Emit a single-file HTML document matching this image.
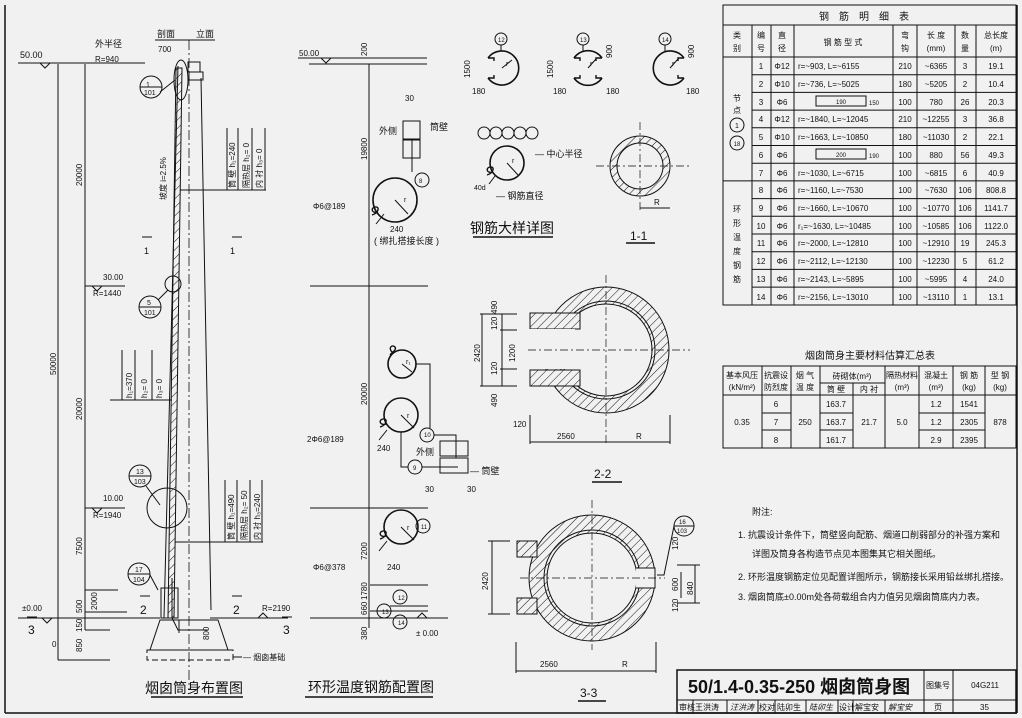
<!DOCTYPE html>
<html><head><meta charset="utf-8"><style>
html,body{margin:0;padding:0;background:#f1f1f1}
svg{display:block}
text{font-family:"Liberation Sans","Noto Sans CJK SC",sans-serif;fill:#111}
.t{font-size:9px}
.s{font-size:8px}
</style></head><body>
<svg width="1022" height="718" viewBox="0 0 1022 718" xmlns="http://www.w3.org/2000/svg">
<defs>
<pattern id="h" width="6" height="6" patternUnits="userSpaceOnUse" patternTransform="rotate(45)">
<rect width="6" height="6" fill="#f1f1f1"/><line x1="0" y1="0" x2="0" y2="6" stroke="#111" stroke-width="1"/></pattern>
</defs>
<rect width="1022" height="718" fill="#f1f1f1"/>
<g stroke="#111" fill="none" stroke-width="1">
<line x1="5" y1="5" x2="5" y2="713" stroke-width="1.5"/>
<line x1="5" y1="713" x2="1017" y2="713" stroke-width="1.5"/>
<line x1="1017" y1="5" x2="1017" y2="713" stroke-width="1.5"/>

<line x1="58" y1="64" x2="58" y2="660"/>
<line x1="85" y1="64" x2="85" y2="630"/>
<line x1="18" y1="63" x2="145" y2="63"/>
<polyline points="40,63 45,68 50,63"/>
<line x1="85" y1="286" x2="125" y2="286"/>
<polyline points="92,286 97,291 102,286"/>
<line x1="85" y1="508" x2="125" y2="508"/>
<polyline points="92,508 97,513 102,508"/>
<line x1="85" y1="590" x2="118" y2="590"/>
<line x1="85" y1="612" x2="127" y2="612"/>
<line x1="18" y1="618" x2="128" y2="618"/>
<polyline points="42,618 47,623 52,618"/>
<line x1="85" y1="630" x2="110" y2="630"/>
<line x1="58" y1="660" x2="110" y2="660"/>
<line x1="128" y1="618" x2="160" y2="618"/>
<line x1="210" y1="618" x2="288" y2="618"/>
<polyline points="258,618 263,613 268,618"/>
<polygon points="176,68 182,68 174,618 168,618" fill="url(#h)"/>
<line x1="178" y1="66" x2="164" y2="618"/>
<line x1="201" y1="78" x2="211" y2="610"/>
<line x1="189" y1="40" x2="189" y2="690" stroke-dasharray="10,3,2,3" stroke-width="0.8"/>
<rect x="188" y="62" width="12" height="10"/>
<rect x="189" y="72" width="14" height="8"/>
<ellipse cx="181" cy="80" rx="7" ry="20"/>
<circle cx="173" cy="284" r="8"/>
<circle cx="167" cy="508" r="20"/>
<rect x="161" y="588" width="17" height="30"/>
<polyline points="172,578 172,618 178,630 208,630"/>
<line x1="179" y1="620" x2="179" y2="633"/>
<polygon points="160,620 218,620 228,650 150,650"/>
<rect x="147" y="650" width="86" height="10" stroke-dasharray="6,3"/>
<line x1="233" y1="657" x2="242" y2="657"/>
<path d="M227,128 V190 M238,128 V190 M252,128 V190 M265,128 V190 M180,190 H266"/>
<path d="M122,350 V400 M135,350 V400 M152,350 V400 M110,400 H172"/>
<path d="M225,480 V542 M237,480 V542 M250,480 V542 M262,480 V542 M175,542 H263"/>
<path d="M142,237 H152 M232,237 H242 M140,596 H150 M232,596 H242 M27,617 H37 M282,617 H292"/>
<circle cx="151" cy="87" r="11"/><line x1="140" y1="87" x2="162" y2="87"/>
<circle cx="150" cy="307" r="11"/><line x1="139" y1="307" x2="161" y2="307"/>
<circle cx="140" cy="476" r="11"/><line x1="129" y1="476" x2="151" y2="476"/>
<circle cx="139" cy="574" r="11"/><line x1="128" y1="574" x2="150" y2="574"/>
<line x1="160" y1="92" x2="175" y2="80"/><line x1="158" y1="300" x2="168" y2="290"/>
<line x1="146" y1="486" x2="160" y2="505"/><line x1="150" y1="575" x2="158" y2="590"/>
<line x1="151" y1="697" x2="243" y2="697" stroke-width="1.5"/>

<line x1="369" y1="64" x2="369" y2="628"/>
<line x1="298" y1="58" x2="427" y2="58"/>
<line x1="309" y1="64" x2="427" y2="64"/>
<polyline points="321,58 326,63 331,58"/>
<line x1="310" y1="286" x2="428" y2="286"/>
<line x1="310" y1="508" x2="428" y2="508"/>
<line x1="370" y1="585" x2="428" y2="585"/>
<line x1="390" y1="606" x2="428" y2="606"/>
<line x1="370" y1="611" x2="428" y2="611"/>
<line x1="310" y1="618" x2="448" y2="618"/>
<polyline points="417,618 422,613 427,618"/>
<g stroke-width="1.6">
<circle cx="395" cy="200" r="22"/>
<circle cx="402" cy="364" r="14"/>
<circle cx="401" cy="415" r="17"/>
<circle cx="401" cy="527" r="17"/>
<circle cx="507" cy="163" r="17"/>
</g>
<path d="M378,212 c-6,2 -8,-4 -3,-5 c5,-1 4,6 -3,8" stroke-width="1.4"/>
<path d="M392,352 c-4,-4 0,-8 3,-5 c2,3 -3,5 -5,8" stroke-width="1.4"/>
<path d="M386,424 c-6,2 -8,-4 -3,-5 c5,-1 4,6 -3,8" stroke-width="1.4"/>
<path d="M386,536 c-6,2 -8,-4 -3,-5 c5,-1 4,6 -3,8" stroke-width="1.4"/>
<path d="M493,172 c-6,2 -8,-4 -3,-5 c5,-1 4,6 -3,8" stroke-width="1.4"/>
<path d="M395,200 L408,214 M402,364 L412,372 M401,415 L414,428 M401,527 L414,540 M507,163 L518,175 M640,166 L655,166"/>
<path d="M384,214 l-8,10 M387,430 l-8,10 M387,541 l-8,10 M495,176 l-6,8"/>
<circle cx="422" cy="180" r="7"/>
<rect x="403" y="121" width="17" height="18"/><rect x="403" y="140" width="17" height="18"/>
<line x1="412" y1="140" x2="412" y2="172"/>
<circle cx="427" cy="435" r="7"/><circle cx="415" cy="467" r="7"/>
<path d="M416,364 H430 V428 M434,435 H456 V458 M401,432 V467 H408 M422,467 H458"/>
<rect x="440" y="441" width="28" height="15"/><rect x="440" y="458" width="28" height="15"/>
<circle cx="423" cy="526" r="7"/>
<circle cx="400" cy="597" r="7"/><circle cx="384" cy="611" r="7"/><circle cx="400" cy="622" r="7"/>
<line x1="305" y1="697" x2="433" y2="697" stroke-width="1.5"/>

<g stroke-width="1.6">
<path d="M488,58 A17,17 0 1 1 488,78"/>
<path d="M574,58 A17,17 0 0 1 602,58 M602,78 A17,17 0 0 1 574,78"/>
<path d="M684,58 A17,17 0 1 0 684,78"/>
</g>
<path d="M488,58 h6 v3 M488,78 h6 v-3 M574,58 h6 v3 M574,78 h6 v-3 M602,58 h-6 v3 M602,78 h-6 v-3 M684,58 h-6 v3 M684,78 h-6 v-3" stroke-width="1.4"/>
<path d="M502,68 l10,-8 M588,68 l8,-9 M670,68 l8,-9"/>
<circle cx="501" cy="39" r="6"/><line x1="501" y1="45" x2="501" y2="51"/>
<circle cx="583" cy="39" r="6"/><line x1="583" y1="45" x2="583" y2="51"/>
<circle cx="665" cy="39" r="6"/><line x1="665" y1="45" x2="665" y2="51"/>
<circle cx="484" cy="133" r="6"/><circle cx="496" cy="133" r="6"/><circle cx="508" cy="133" r="6"/><circle cx="520" cy="133" r="6"/><circle cx="532" cy="133" r="6"/>
<line x1="473" y1="237" x2="553" y2="237" stroke-width="1.5"/>
<circle cx="640" cy="166" r="30" fill="url(#h)"/>
<circle cx="640" cy="166" r="23" fill="#f1f1f1"/>
<line x1="596" y1="166" x2="690" y2="166" stroke-dasharray="8,3,2,3" stroke-width="0.7"/>
<line x1="640" y1="122" x2="640" y2="210" stroke-dasharray="8,3,2,3" stroke-width="0.7"/>
<line x1="640" y1="208" x2="670" y2="208"/>
<line x1="626" y1="243" x2="655" y2="243" stroke-width="1.5"/>
<circle cx="606" cy="350" r="63" fill="url(#h)"/>
<circle cx="606" cy="350" r="46" fill="#f1f1f1"/>
<circle cx="606" cy="350" r="49"/>
<rect x="530" y="313" width="50" height="16" fill="url(#h)"/>
<rect x="530" y="370" width="50" height="16" fill="url(#h)"/>
<rect x="528" y="329" width="40" height="40" fill="#f1f1f1" stroke="none"/>
<rect x="555" y="329" width="20" height="40" fill="#f1f1f1" stroke="none"/>
<line x1="528" y1="350" x2="690" y2="350" stroke-dasharray="8,3,2,3" stroke-width="0.7"/>
<line x1="606" y1="275" x2="606" y2="445" stroke-dasharray="8,3,2,3" stroke-width="0.7"/>
<path d="M482,314 V386 M502,314 V386 M480,314 H517 M480,386 H517 M500,330 H517 M500,369 H517"/>
<path d="M530,442 H670 M530,415 V444 M670,415 V444"/>
<line x1="592" y1="482" x2="622" y2="482" stroke-width="1.5"/>
<circle cx="592" cy="578" r="63" fill="url(#h)"/>
<circle cx="592" cy="578" r="45" fill="#f1f1f1"/>
<circle cx="592" cy="578" r="48"/>
<rect x="517" y="541" width="20" height="16" fill="url(#h)"/>
<rect x="517" y="598" width="20" height="16" fill="url(#h)"/>
<rect x="636" y="568" width="22" height="20" fill="#f1f1f1" stroke="none"/>
<path d="M636,568 H655 V588 H636"/>
<line x1="520" y1="578" x2="665" y2="578" stroke-dasharray="8,3,2,3" stroke-width="0.7"/>
<line x1="592" y1="500" x2="592" y2="650" stroke-dasharray="8,3,2,3" stroke-width="0.7"/>
<path d="M492,541 V614 M488,541 H510 M488,614 H510"/>
<path d="M516,671 H656 M516,642 V673 M656,642 V673"/>
<circle cx="684" cy="526" r="10"/><line x1="674" y1="526" x2="694" y2="526"/>
<path d="M674,526 L664,575 H657"/>
<path d="M681,572 V598 M695,565 V603 M677,565 H700 M677,603 H700"/>
<line x1="578" y1="701" x2="606" y2="701" stroke-width="1.5"/>

<rect x="723" y="5" width="293" height="300"/>
<line x1="723" y1="25" x2="1016" y2="25"/>
<line x1="723" y1="57" x2="1016" y2="57"/>
<path d="M752,25 V305 M771,25 V305 M794,25 V305 M893,25 V305 M917,25 V305 M955,25 V305 M976,25 V305"/>
<path d="M752,74.7 H1016 M752,92.4 H1016 M752,110.1 H1016 M752,127.8 H1016 M752,145.5 H1016 M752,163.2 H1016 M723,180.9 H1016 M752,198.6 H1016 M752,216.3 H1016 M752,234 H1016 M752,251.7 H1016 M752,269.4 H1016 M752,287.1 H1016"/>
<rect x="816" y="96" width="50" height="10"/><rect x="816" y="149" width="50" height="10"/>
<circle cx="737" cy="125" r="7"/><circle cx="737" cy="143" r="7"/>
<rect x="723" y="366" width="293" height="82"/>
<line x1="723" y1="395" x2="1016" y2="395"/>
<line x1="820" y1="383" x2="885" y2="383"/>
<path d="M762,366 V448 M791,366 V448 M820,366 V448 M853,383 V448 M885,366 V448 M919,366 V448 M953,366 V448 M985,366 V448"/>
<path d="M762,413 H791 M820,413 H853 M919,413 H985 M762,430 H791 M820,430 H853 M919,430 H985"/>
<rect x="677" y="670" width="339" height="43" stroke-width="1.5"/>
<line x1="677" y1="700" x2="1016" y2="700"/>
<path d="M924,670 V713 M953,670 V713"/>
<path d="M693,700 V713 M727,700 V713 M758,700 V713 M775,700 V713 M806,700 V713 M838,700 V713 M853,700 V713 M885,700 V713"/>
</g>

<text x="20" y="58" class="t">50.00</text>
<text x="95" y="47" class="t">外半径</text>
<text x="95" y="62" class="s">R=940</text>
<text x="157" y="37" class="t">剖面</text><text x="196" y="37" class="t">立面</text>
<line x1="155" y1="40" x2="215" y2="40" stroke="#111"/>
<text x="158" y="52" class="s">700</text>
<text x="103" y="280" class="s">30.00</text><text x="93" y="296" class="s">R=1440</text>
<text x="103" y="501" class="s">10.00</text><text x="93" y="518" class="s">R=1940</text>
<text x="22" y="611" class="s">±0.00</text>
<text x="262" y="611" class="s">R=2190</text>
<text x="144" y="254" class="t">1</text><text x="230" y="254" class="t">1</text>
<text x="140" y="614" font-size="12">2</text><text x="233" y="614" font-size="12">2</text>
<text x="28" y="634" font-size="12">3</text><text x="283" y="634" font-size="12">3</text>
<text x="52" y="647" class="s">0</text>
<text x="243" y="660" class="s">— 烟囱基础</text>
<text x="146" y="87" font-size="7">1</text><text x="144" y="95" font-size="7">101</text>
<text x="147" y="305" font-size="7">5</text><text x="144" y="315" font-size="7">101</text>
<text x="136" y="474" font-size="7">13</text><text x="134" y="484" font-size="7">103</text>
<text x="135" y="572" font-size="7">17</text><text x="133" y="582" font-size="7">104</text>
<g class="s">
<text transform="translate(82,186) rotate(-90)">20000</text>
<text transform="translate(56,375) rotate(-90)">50000</text>
<text transform="translate(82,420) rotate(-90)">20000</text>
<text transform="translate(82,555) rotate(-90)">7500</text>
<text transform="translate(97,610) rotate(-90)">2000</text>
<text transform="translate(82,613) rotate(-90)">500</text>
<text transform="translate(82,632) rotate(-90)">150</text>
<text transform="translate(82,652) rotate(-90)">850</text>
<text transform="translate(209,640) rotate(-90)">800</text>
<text transform="translate(166,200) rotate(-90)">坡度 i=2.5%</text>
<text transform="translate(235,188) rotate(-90)">筒 壁 h₁=240</text>
<text transform="translate(249,188) rotate(-90)">隔热层 h₂= 0</text>
<text transform="translate(262,188) rotate(-90)">内 衬 h₃= 0</text>
<text transform="translate(132,398) rotate(-90)">h₁=370</text>
<text transform="translate(147,398) rotate(-90)">h₂= 0</text>
<text transform="translate(162,398) rotate(-90)">h₃= 0</text>
<text transform="translate(234,540) rotate(-90)">筒 壁 h₁=490</text>
<text transform="translate(247,540) rotate(-90)">隔热层 h₂= 50</text>
<text transform="translate(260,540) rotate(-90)">内 衬 h₃=240</text>
</g>
<text x="145" y="693" font-size="14">烟囱筒身布置图</text>

<text x="299" y="56" class="s">50.00</text>
<g class="s">
<text transform="translate(367,56) rotate(-90)">200</text>
<text transform="translate(367,160) rotate(-90)">19800</text>
<text transform="translate(367,405) rotate(-90)">20000</text>
<text transform="translate(367,560) rotate(-90)">7200</text>
<text transform="translate(367,600) rotate(-90)">1780</text>
<text transform="translate(367,615) rotate(-90)">660</text>
<text transform="translate(367,640) rotate(-90)">380</text>
</g>
<text x="313" y="209" class="s">Φ6@189</text>
<text x="307" y="442" class="s">2Φ6@189</text>
<text x="313" y="570" class="s">Φ6@378</text>
<text x="405" y="101" class="s">30</text>
<text x="379" y="134" class="t">外侧</text><text x="430" y="130" class="t">筒壁</text>
<text x="419" y="183" font-size="6">8</text>
<text x="390" y="232" class="s">240</text>
<text x="374" y="244" class="t">( 绑扎搭接长度 )</text>
<text x="377" y="451" class="s">240</text>
<text x="416" y="455" class="t">外侧</text><text x="470" y="474" class="t">— 筒壁</text>
<text x="424" y="437" font-size="6">10</text><text x="413" y="470" font-size="6">9</text>
<text x="425" y="492" class="s">30</text><text x="467" y="492" class="s">30</text>
<text x="387" y="570" class="s">240</text>
<text x="421" y="529" font-size="6">11</text>
<text x="398" y="600" font-size="6">12</text><text x="382" y="614" font-size="6">13</text><text x="398" y="625" font-size="6">14</text>
<text x="416" y="636" class="s">± 0.00</text>
<text x="308" y="692" font-size="14">环形温度钢筋配置图</text>
<g font-size="7">
<text x="404" y="202">r</text><text x="406" y="364">r₁</text><text x="407" y="418">r</text><text x="407" y="530">r</text>
<text x="512" y="163">r</text><text x="506" y="66">r</text><text x="590" y="66">r</text><text x="672" y="66">r</text>
</g>

<text x="498" y="42" font-size="6">12</text><text x="580" y="42" font-size="6">13</text><text x="662" y="42" font-size="6">14</text>
<text x="472" y="94" class="s">180</text><text x="553" y="94" class="s">180</text><text x="606" y="94" class="s">180</text><text x="686" y="94" class="s">180</text>
<text transform="translate(470,78) rotate(-90)" class="s">1500</text>
<text transform="translate(553,78) rotate(-90)" class="s">1500</text>
<text transform="translate(612,58) rotate(-90)" class="s">900</text>
<text transform="translate(694,58) rotate(-90)" class="s">900</text>
<text x="535" y="157" class="t">— 中心半径</text>
<text x="474" y="190" font-size="7">40d</text>
<text x="496" y="199" class="t">— 钢筋直径</text>
<text x="470" y="233" font-size="14">钢筋大样详图</text>
<text x="654" y="205" class="s">R</text>
<text x="630" y="240" font-size="12">1-1</text>
<g class="s">
<text transform="translate(497,314) rotate(-90)">490</text>
<text transform="translate(497,330) rotate(-90)">120</text>
<text transform="translate(480,362) rotate(-90)">2420</text>
<text transform="translate(515,362) rotate(-90)">1200</text>
<text transform="translate(497,375) rotate(-90)">120</text>
<text transform="translate(497,407) rotate(-90)">490</text>
<text transform="translate(488,590) rotate(-90)">2420</text>
<text transform="translate(678,550) rotate(-90)">120</text>
<text transform="translate(678,591) rotate(-90)">600</text>
<text transform="translate(693,595) rotate(-90)">840</text>
<text transform="translate(678,612) rotate(-90)">120</text>
</g>
<text x="513" y="427" class="s">120</text>
<text x="557" y="439" class="s">2560</text><text x="636" y="439" class="s">R</text>
<text x="540" y="667" class="s">2560</text><text x="622" y="667" class="s">R</text>
<text x="594" y="478" font-size="12">2-2</text>
<text x="580" y="697" font-size="12">3-3</text>
<text x="679" y="524" font-size="6">16</text><text x="677" y="533" font-size="6">103</text>

<text x="869" y="20" font-size="10" text-anchor="middle" letter-spacing="10">钢筋明细表</text>
<g class="s" text-anchor="middle">
<text x="737" y="38">类</text><text x="737" y="51">别</text>
<text x="761" y="38">编</text><text x="761" y="51">号</text>
<text x="782" y="38">直</text><text x="782" y="51">径</text>
<text x="843" y="45">钢 筋 型 式</text>
<text x="905" y="38">弯</text><text x="905" y="51">钩</text>
<text x="936" y="38">长 度</text><text x="936" y="51">(mm)</text>
<text x="965" y="38">数</text><text x="965" y="51">量</text>
<text x="996" y="38">总长度</text><text x="996" y="51">(m)</text>
<text x="737" y="101">节</text><text x="737" y="113">点</text>
<text x="737" y="128" font-size="7">1</text><text x="737" y="146" font-size="6">18</text>
<text x="737" y="212">环</text><text x="737" y="226">形</text><text x="737" y="240">温</text><text x="737" y="254">度</text><text x="737" y="268">钢</text><text x="737" y="282">筋</text>
</g>
<g class="s">
<text x="761" y="69" text-anchor="middle">1</text><text x="782" y="69" text-anchor="middle">Φ12</text><text x="798" y="69">r=~903,   L=~6155</text><text x="905" y="69" text-anchor="middle">210</text><text x="936" y="69" text-anchor="middle">~6365</text><text x="965" y="69" text-anchor="middle">3</text><text x="996" y="69" text-anchor="middle">19.1</text>
<text x="761" y="87" text-anchor="middle">2</text><text x="782" y="87" text-anchor="middle">Φ10</text><text x="798" y="87">r=~736,   L=~5025</text><text x="905" y="87" text-anchor="middle">180</text><text x="936" y="87" text-anchor="middle">~5205</text><text x="965" y="87" text-anchor="middle">2</text><text x="996" y="87" text-anchor="middle">10.4</text>
<text x="761" y="105" text-anchor="middle">3</text><text x="782" y="105" text-anchor="middle">Φ6</text><text x="841" y="104" font-size="6" text-anchor="middle">190</text><text x="869" y="105" font-size="6">150</text><text x="905" y="105" text-anchor="middle">100</text><text x="936" y="105" text-anchor="middle">780</text><text x="965" y="105" text-anchor="middle">26</text><text x="996" y="105" text-anchor="middle">20.3</text>
<text x="761" y="122" text-anchor="middle">4</text><text x="782" y="122" text-anchor="middle">Φ12</text><text x="798" y="122">r=~1840, L=~12045</text><text x="905" y="122" text-anchor="middle">210</text><text x="936" y="122" text-anchor="middle">~12255</text><text x="965" y="122" text-anchor="middle">3</text><text x="996" y="122" text-anchor="middle">36.8</text>
<text x="761" y="140" text-anchor="middle">5</text><text x="782" y="140" text-anchor="middle">Φ10</text><text x="798" y="140">r=~1663, L=~10850</text><text x="905" y="140" text-anchor="middle">180</text><text x="936" y="140" text-anchor="middle">~11030</text><text x="965" y="140" text-anchor="middle">2</text><text x="996" y="140" text-anchor="middle">22.1</text>
<text x="761" y="158" text-anchor="middle">6</text><text x="782" y="158" text-anchor="middle">Φ6</text><text x="841" y="157" font-size="6" text-anchor="middle">200</text><text x="869" y="158" font-size="6">190</text><text x="905" y="158" text-anchor="middle">100</text><text x="936" y="158" text-anchor="middle">880</text><text x="965" y="158" text-anchor="middle">56</text><text x="996" y="158" text-anchor="middle">49.3</text>
<text x="761" y="176" text-anchor="middle">7</text><text x="782" y="176" text-anchor="middle">Φ6</text><text x="798" y="176">r=~1030,  L=~6715</text><text x="905" y="176" text-anchor="middle">100</text><text x="936" y="176" text-anchor="middle">~6815</text><text x="965" y="176" text-anchor="middle">6</text><text x="996" y="176" text-anchor="middle">40.9</text>
<text x="761" y="193" text-anchor="middle">8</text><text x="782" y="193" text-anchor="middle">Φ6</text><text x="798" y="193">r=~1160,  L=~7530</text><text x="905" y="193" text-anchor="middle">100</text><text x="936" y="193" text-anchor="middle">~7630</text><text x="965" y="193" text-anchor="middle">106</text><text x="996" y="193" text-anchor="middle">808.8</text>
<text x="761" y="211" text-anchor="middle">9</text><text x="782" y="211" text-anchor="middle">Φ6</text><text x="798" y="211">r=~1660, L=~10670</text><text x="905" y="211" text-anchor="middle">100</text><text x="936" y="211" text-anchor="middle">~10770</text><text x="965" y="211" text-anchor="middle">106</text><text x="996" y="211" text-anchor="middle">1141.7</text>
<text x="761" y="229" text-anchor="middle">10</text><text x="782" y="229" text-anchor="middle">Φ6</text><text x="798" y="229">r₁=~1630, L=~10485</text><text x="905" y="229" text-anchor="middle">100</text><text x="936" y="229" text-anchor="middle">~10585</text><text x="965" y="229" text-anchor="middle">106</text><text x="996" y="229" text-anchor="middle">1122.0</text>
<text x="761" y="246" text-anchor="middle">11</text><text x="782" y="246" text-anchor="middle">Φ6</text><text x="798" y="246">r=~2000, L=~12810</text><text x="905" y="246" text-anchor="middle">100</text><text x="936" y="246" text-anchor="middle">~12910</text><text x="965" y="246" text-anchor="middle">19</text><text x="996" y="246" text-anchor="middle">245.3</text>
<text x="761" y="264" text-anchor="middle">12</text><text x="782" y="264" text-anchor="middle">Φ6</text><text x="798" y="264">r=~2112,  L=~12130</text><text x="905" y="264" text-anchor="middle">100</text><text x="936" y="264" text-anchor="middle">~12230</text><text x="965" y="264" text-anchor="middle">5</text><text x="996" y="264" text-anchor="middle">61.2</text>
<text x="761" y="282" text-anchor="middle">13</text><text x="782" y="282" text-anchor="middle">Φ6</text><text x="798" y="282">r=~2143,  L=~5895</text><text x="905" y="282" text-anchor="middle">100</text><text x="936" y="282" text-anchor="middle">~5995</text><text x="965" y="282" text-anchor="middle">4</text><text x="996" y="282" text-anchor="middle">24.0</text>
<text x="761" y="300" text-anchor="middle">14</text><text x="782" y="300" text-anchor="middle">Φ6</text><text x="798" y="300">r=~2156, L=~13010</text><text x="905" y="300" text-anchor="middle">100</text><text x="936" y="300" text-anchor="middle">~13110</text><text x="965" y="300" text-anchor="middle">1</text><text x="996" y="300" text-anchor="middle">13.1</text>
</g>

<text x="870" y="359" font-size="10" text-anchor="middle">烟囱筒身主要材料估算汇总表</text>
<g class="s" text-anchor="middle">
<text x="742" y="378">基本风压</text><text x="742" y="390">(kN/m²)</text>
<text x="776" y="378">抗震设</text><text x="776" y="390">防烈度</text>
<text x="805" y="378">烟 气</text><text x="805" y="390">温 度</text>
<text x="852" y="379">砖砌体(m³)</text>
<text x="836" y="392">筒 壁</text><text x="869" y="392">内 衬</text>
<text x="902" y="378">隔热材料</text><text x="902" y="390">(m³)</text>
<text x="936" y="378">混凝土</text><text x="936" y="390">(m³)</text>
<text x="969" y="378">钢 筋</text><text x="969" y="390">(kg)</text>
<text x="1000" y="378">型 钢</text><text x="1000" y="390">(kg)</text>
<text x="742" y="425">0.35</text>
<text x="776" y="407">6</text><text x="776" y="425">7</text><text x="776" y="443">8</text>
<text x="805" y="425">250</text>
<text x="836" y="407">163.7</text><text x="836" y="425">163.7</text><text x="836" y="443">161.7</text>
<text x="869" y="425">21.7</text><text x="902" y="425">5.0</text>
<text x="936" y="407">1.2</text><text x="936" y="425">1.2</text><text x="936" y="443">2.9</text>
<text x="969" y="407">1541</text><text x="969" y="425">2305</text><text x="969" y="443">2395</text>
<text x="1000" y="425">878</text>
</g>

<g font-size="9">
<text x="752" y="515">附注:</text>
<text x="738" y="538">1.  抗震设计条件下，筒壁竖向配筋、烟道口削弱部分的补强方案和</text>
<text x="752" y="557">详图及筒身各构造节点见本图集其它相关图纸。</text>
<text x="738" y="580">2.  环形温度钢筋定位见配置详图所示，钢筋接长采用铅丝绑扎搭接。</text>
<text x="738" y="600">3.  烟囱筒底±0.00m处各荷载组合内力值另见烟囱筒底内力表。</text>
</g>

<text x="688" y="693" font-size="18" font-weight="bold">50/1.4-0.35-250 烟囱筒身图</text>
<text x="938" y="688" class="s" text-anchor="middle">图集号</text>
<text x="985" y="688" class="s" text-anchor="middle">04G211</text>
<g class="s">
<text x="679" y="710">审核</text><text x="695" y="710">王洪涛</text><text x="730" y="710" font-style="italic">汪洪涛</text>
<text x="759" y="710">校对</text><text x="777" y="710">陆卯生</text><text x="809" y="710" font-style="italic">陆卯生</text>
<text x="839" y="710">设计</text><text x="855" y="710">解宝安</text><text x="888" y="710" font-style="italic">解宝安</text>
<text x="934" y="710">页</text><text x="980" y="710">35</text>
</g>
</svg>
</body></html>
